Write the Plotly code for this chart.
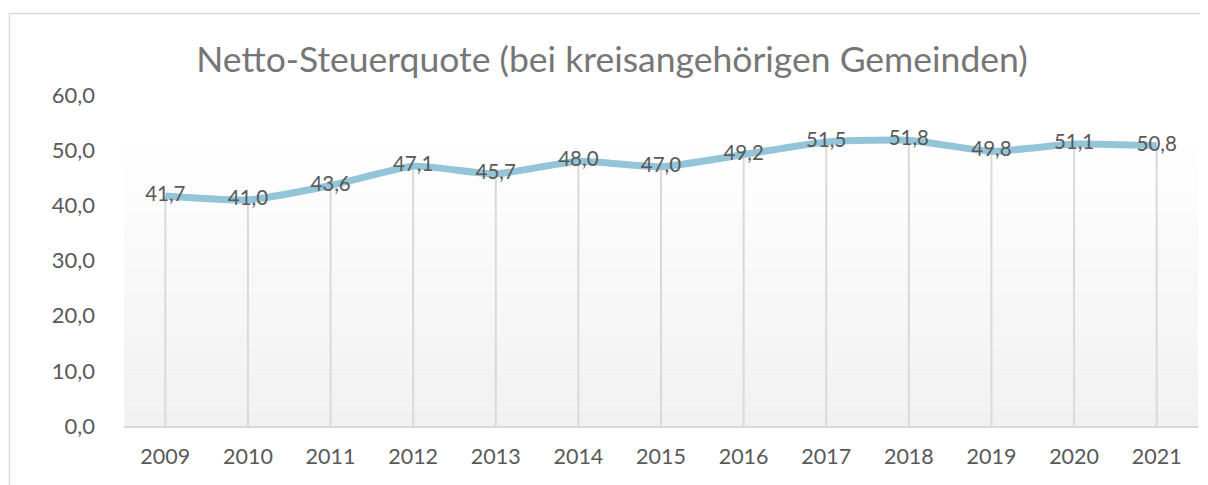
import plotly.graph_objects as go

# data
years = ["2009", "2010", "2011", "2012", "2013", "2014", "2015",
         "2016", "2017", "2018", "2019", "2020", "2021"]
quote = [41.7, 41.0, 43.6, 47.1, 45.7, 48.0, 47.0,
         49.2, 51.5, 51.8, 49.8, 51.1, 50.8]

# page body has an 8px margin, so the figure is 8px smaller than the window
W, H = 1200, 477
ML, MR, MT, MB = 116, 10, 87, 59
PW, PH = W - ML - MR, H - MT - MB

FONT = "Lato"
TXT = "#595959"
LINE = "#93c4d8"

labels = [f"{v:.1f}".replace(".", ",") for v in quote]

fig = go.Figure()

# drop lines from each point down to the axis
fig.add_trace(go.Scatter(
    x=years, y=quote, mode="markers",
    marker=dict(size=1, opacity=0),
    error_y=dict(type="data", symmetric=False, array=[0] * len(quote),
                 arrayminus=quote, color="#d9d9d9", thickness=2, width=0),
    hoverinfo="skip", showlegend=False,
))

fig.add_trace(go.Scatter(
    x=years, y=quote, mode="lines+text",
    line=dict(color=LINE, width=7, shape="spline", smoothing=0.5),
    text=labels, textposition="middle center",
    textfont=dict(family=FONT, size=20.5, color=TXT),
    showlegend=False,
))

# plot-area gradient (white at top -> light grey at bottom)
shapes = []
n = 40
top = (H - MB - 131) / PH
for i in range(n):
    f = i / n
    c = int(round(241 + (255 - 241) * f))
    shapes.append(dict(type="rect", xref="paper", yref="paper", layer="below",
                       x0=0, x1=1, y0=top * f, y1=top * (i + 1) / n,
                       fillcolor=f"rgb({c},{c},{c})", line=dict(width=0)))

# chart border
shapes.append(dict(type="rect", xref="paper", yref="paper", layer="below",
                   x0=(1.5 - ML) / PW, x1=1.2, y0=-0.5, y1=(H - MB - 5.5) / PH,
                   line=dict(color="#d9d9d9", width=1.5), fillcolor="rgba(0,0,0,0)"))

fig.update_layout(
    width=W, height=H,
    margin=dict(l=ML, r=MR, t=MT, b=MB),
    paper_bgcolor="white", plot_bgcolor="rgba(0,0,0,0)",
    separators=",.",
    shapes=shapes,
    title=dict(text="Netto-Steuerquote (bei kreisangehörigen Gemeinden)",
               x=604 / W, xanchor="center", y=1 - 52 / H, yanchor="middle",
               font=dict(family=FONT, size=35.5, color="#767676")),
    xaxis=dict(type="category", range=[-0.5, 12.5], showgrid=False,
               showline=True, linecolor="#d9d9d9", linewidth=1.5,
               ticks="", ticklabelstandoff=10,
               tickfont=dict(family=FONT, size=21.5, color=TXT),
               zeroline=False, fixedrange=True),
    yaxis=dict(range=[0, 60], dtick=10, tickformat=".1f", showgrid=False,
               zeroline=False, showline=False, ticks="",
               ticklabelstandoff=28,
               tickfont=dict(family=FONT, size=22, color=TXT)),
)

fig.write_html("out.html")
